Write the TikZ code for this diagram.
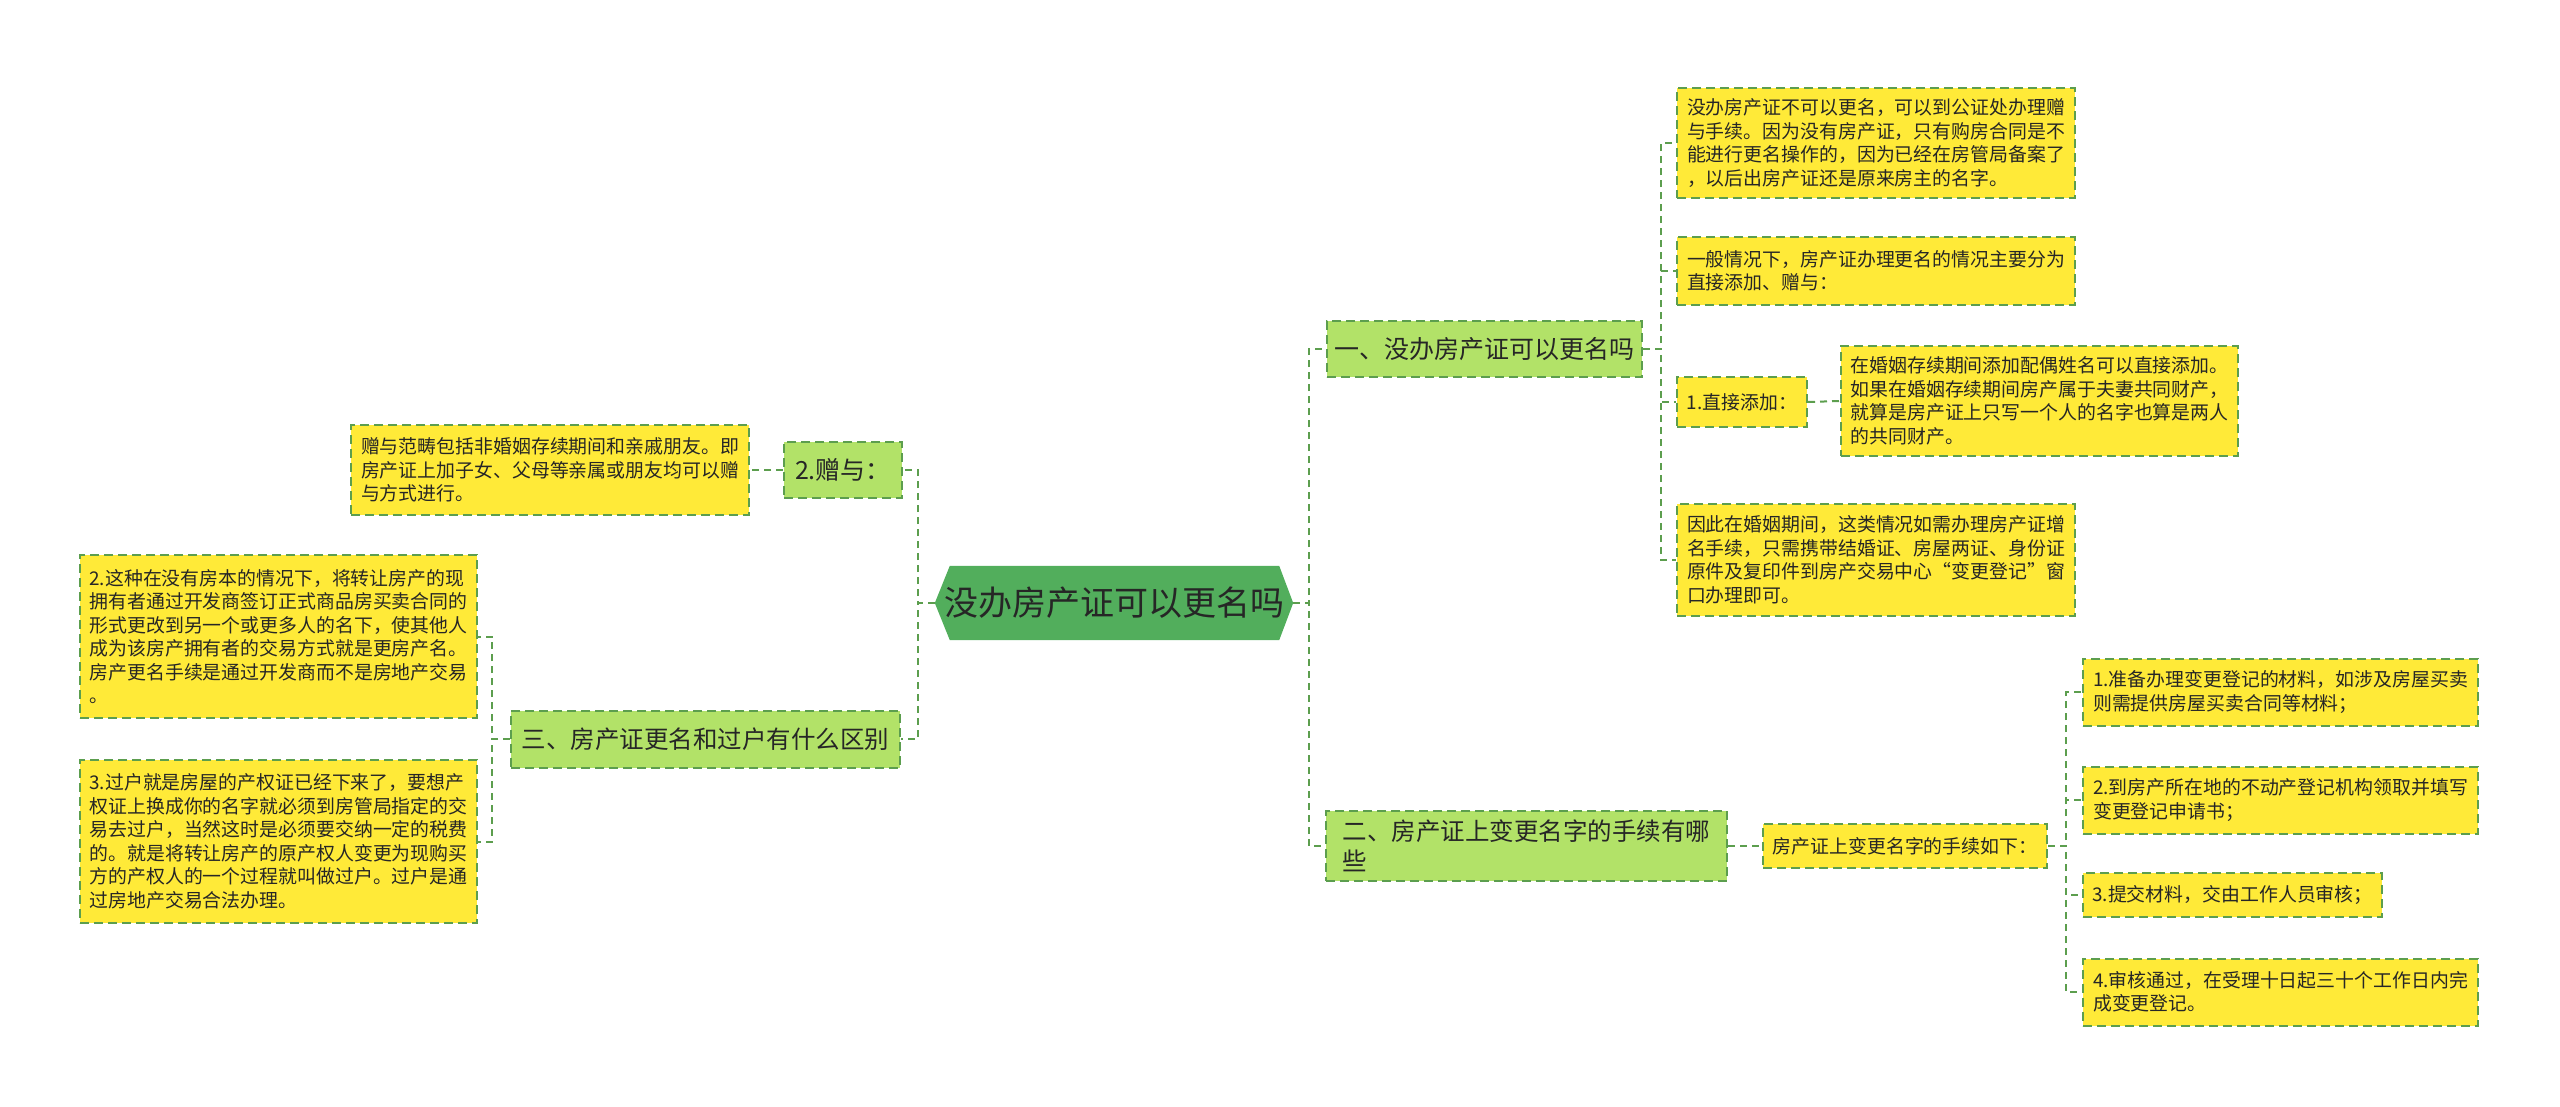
\documentclass[tikz,border=0pt]{standalone}
\usepackage{fontspec}
\setmainfont{Noto Sans CJK SC}
\usetikzlibrary{calc,backgrounds}
\definecolor{lineg}{RGB}{92,158,78}
\definecolor{yel}{RGB}{255,234,56}
\definecolor{lgr}{RGB}{178,226,104}
\definecolor{rootg}{RGB}{82,174,92}
\definecolor{txt}{RGB}{38,38,38}
\tikzset{
 conn/.style={draw=lineg, line width=2pt, dash pattern=on 7pt off 5pt},
 box/.style={draw=lineg, line width=2pt, dash pattern=on 9pt off 5pt, inner sep=0pt, text=txt, align=left},
 ybox/.style={box, fill=yel, font=\fontsize{18.9pt}{23.5pt}\selectfont},
 gbox/.style={box, fill=lgr, font=\fontsize{25pt}{30pt}\selectfont},
 sz/.style 2 args={minimum width=#1pt, minimum height=#2pt},
}
\begin{document}
\begin{tikzpicture}[x=1pt,y=-1pt]
\useasboundingbox (0,0) rectangle (2560,1106);
% root
\node[font=\fontsize{34pt}{40pt}\selectfont, text=txt, inner sep=0pt, sz={358}{74}] (root) at (1114,603) {没办房产证可以更名吗};
\begin{scope}[on background layer]
\fill[rootg] (root.west) -- ($(root.north west)+(15,0)$) -- ($(root.north east)+(-14,0)$) -- (root.east) -- ($(root.south east)+(-14,0)$) -- ($(root.south west)+(15,0)$) -- cycle;
\end{scope}
% level 1
\node[gbox, sz={315}{56}] (one) at (1484.5,349) {一、没办房产证可以更名吗};
\node[gbox, font=\fontsize{24.5pt}{30pt}\selectfont, sz={401}{70}] (two) at (1526.5,846) {二、房产证上变更名字的手续有哪\\些};
\node[gbox, font=\fontsize{24.5pt}{30pt}\selectfont, sz={389}{57}] (three) at (705.5,739) {三、房产证更名和过户有什么区别};
\node[gbox, sz={118}{56}] (gift) at (843,470) {2.赠与：};
% right branch one
\node[ybox, sz={398}{110}] (c1) at (1876,143) {没办房产证不可以更名，可以到公证处办理赠\\与手续。因为没有房产证，只有购房合同是不\\能进行更名操作的，因为已经在房管局备案了\\，以后出房产证还是原来房主的名字。};
\node[ybox, sz={398}{68}] (c2) at (1876,271) {一般情况下，房产证办理更名的情况主要分为\\直接添加、赠与：};
\node[ybox, sz={130}{50}] (c3) at (1742,402) {1.直接添加：};
\node[ybox, sz={397}{110}] (c3c) at (2039.5,401) {在婚姻存续期间添加配偶姓名可以直接添加。\\如果在婚姻存续期间房产属于夫妻共同财产，\\就算是房产证上只写一个人的名字也算是两人\\的共同财产。};
\node[ybox, sz={398}{112}] (c4) at (1876,560) {因此在婚姻期间，这类情况如需办理房产证增\\名手续，只需携带结婚证、房屋两证、身份证\\原件及复印件到房产交易中心“变更登记”窗\\口办理即可。};
% right branch two
\node[ybox, sz={284}{44}] (twoc) at (1905,846) {房产证上变更名字的手续如下：};
\node[ybox, sz={395}{67}] (s1) at (2280.5,692) {1.准备办理变更登记的材料，如涉及房屋买卖\\则需提供房屋买卖合同等材料；};
\node[ybox, sz={395}{67}] (s2) at (2280.5,800) {2.到房产所在地的不动产登记机构领取并填写\\变更登记申请书；};
\node[ybox, sz={299}{44}] (s3) at (2232.5,895) {3.提交材料，交由工作人员审核；};
\node[ybox, sz={395}{67}] (s4) at (2280.5,992) {4.审核通过，在受理十日起三十个工作日内完\\成变更登记。};
% left
\node[ybox, sz={398}{90}] (giftc) at (550,470) {赠与范畴包括非婚姻存续期间和亲戚朋友。即\\房产证上加子女、父母等亲属或朋友均可以赠\\与方式进行。};
\node[ybox, sz={397}{163}] (d1) at (278.5,636.5) {2.这种在没有房本的情况下，将转让房产的现\\拥有者通过开发商签订正式商品房买卖合同的\\形式更改到另一个或更多人的名下，使其他人\\成为该房产拥有者的交易方式就是更房产名。\\房产更名手续是通过开发商而不是房地产交易\\。};
\node[ybox, sz={397}{163}] (d2) at (278.5,841.5) {3.过户就是房屋的产权证已经下来了，要想产\\权证上换成你的名字就必须到房管局指定的交\\易去过户，当然这时是必须要交纳一定的税费\\的。就是将转让房产的原产权人变更为现购买\\方的产权人的一个过程就叫做过户。过户是通\\过房地产交易合法办理。};
% connectors
\draw[conn] (root.west) -- ++(-17,0) |- (gift.east);
\draw[conn] (root.west) -- ++(-17,0) |- (three.east);
\draw[conn] (root.east) -- ++(16,0) |- (one.west);
\draw[conn] (root.east) -- ++(16,0) |- (two.west);
\draw[conn] (one.east) -- ++(18,0) |- (c1.west);
\draw[conn] (one.east) -- ++(18,0) |- (c2.west);
\draw[conn] (one.east) -- ++(18,0) |- (c3.west);
\draw[conn] (one.east) -- ++(18,0) |- (c4.west);
\draw[conn] (c3.east) -- (c3c.west);
\draw[conn] (two.east) -- (twoc.west);
\draw[conn] (twoc.east) -- ++(18,0) |- (s1.west);
\draw[conn] (twoc.east) -- ++(18,0) |- (s2.west);
\draw[conn] (twoc.east) -- ++(18,0) |- (s3.west);
\draw[conn] (twoc.east) -- ++(18,0) |- (s4.west);
\draw[conn] (gift.west) -- (giftc.east);
\draw[conn] (three.west) -- ++(-18,0) |- (d1.east);
\draw[conn] (three.west) -- ++(-18,0) |- (d2.east);
\end{tikzpicture}
\end{document}
